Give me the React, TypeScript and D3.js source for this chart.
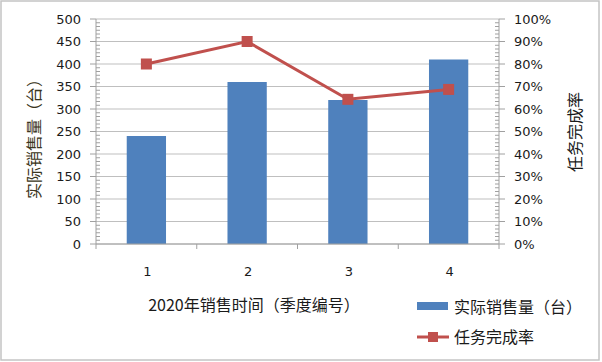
import React from "react";
import * as d3 from "d3";

const categories = ["1", "2", "3", "4"];
const sales = [240, 360, 320, 410];
const completion = [0.8, 0.9, 0.643, 0.687];
const leftTicks = [0, 50, 100, 150, 200, 250, 300, 350, 400, 450, 500];
const rightTicks = [0, 0.1, 0.2, 0.3, 0.4, 0.5, 0.6, 0.7, 0.8, 0.9, 1.0];
const xTitle = "2020年销售时间（季度编号）";
const yLeftTitle = "实际销售量（台）";
const yRightTitle = "任务完成率";
const legendBar = "实际销售量（台）";
const legendLine = "任务完成率";

const W = 602;
const H = 362;
const L = 96;
const R = 499;
const T = 19;
const B = 244;

const BAR = "#4f81bd";
const LINE = "#c0504d";
const GRID = "#bfbfbf";
const AXIS = "#a0a0a0";
const TEXT = "#1a1a1a";
const NUM_FONT = "'DejaVu Sans', Verdana, sans-serif";
const CJK_FONT = "'Noto Sans CJK SC', 'Noto Sans', sans-serif";

export default function App() {
  const x = d3
    .scaleBand<string>()
    .domain(categories)
    .range([L, R])
    .paddingInner(0.61)
    .paddingOuter(0.305);
  const yL = d3.scaleLinear().domain([0, 500]).range([B, T]);
  const yR = d3.scaleLinear().domain([0, 1]).range([B, T]);
  const step = (R - L) / categories.length;
  const cx = (c: string) => (x(c) as number) + x.bandwidth() / 2;

  const minorL: number[] = [];
  for (let i = 0; i < leftTicks.length - 1; i++) {
    for (let k = 1; k < 6; k++) minorL.push(leftTicks[i] + (k * 50) / 6);
  }
  const minorR: number[] = [];
  for (let i = 0; i < rightTicks.length - 1; i++) {
    for (let k = 1; k < 6; k++) minorR.push(rightTicks[i] + (k * 0.1) / 6);
  }

  const line = d3
    .line<number>()
    .x((_, i) => cx(categories[i]))
    .y((d) => yR(d));

  const ms = 11;

  return (
    <svg
      width={W}
      height={H}
      style={{ position: "absolute", left: 0, top: 0, background: "#fff" }}
    >
      <rect x={1} y={1} width={W - 4} height={H - 3} fill="#fff" stroke="#c4c4c4" strokeWidth={1.5} />

      {/* gridlines */}
      {leftTicks.map((t) => (
        <line key={"g" + t} x1={L} x2={R} y1={yL(t)} y2={yL(t)} stroke={GRID} strokeWidth={1} />
      ))}

      {/* bars */}
      {sales.map((v, i) => (
        <rect
          key={"b" + i}
          x={x(categories[i])}
          y={yL(v)}
          width={x.bandwidth()}
          height={B - yL(v)}
          fill={BAR}
        />
      ))}

      {/* axes */}
      <line x1={L} x2={L} y1={T} y2={B} stroke={AXIS} />
      <line x1={R} x2={R} y1={T} y2={B} stroke={AXIS} />
      <line x1={L} x2={R} y1={B} y2={B} stroke={AXIS} />
      {leftTicks.map((t) => (
        <line key={"lt" + t} x1={L - 6} x2={L} y1={yL(t)} y2={yL(t)} stroke={AXIS} />
      ))}
      {minorL.map((t, i) => (
        <line key={"lm" + i} x1={L} x2={L + 4} y1={yL(t)} y2={yL(t)} stroke={AXIS} />
      ))}
      {rightTicks.map((t) => (
        <line key={"rt" + t} x1={R} x2={R + 6} y1={yR(t)} y2={yR(t)} stroke={AXIS} />
      ))}
      {minorR.map((t, i) => (
        <line key={"rm" + i} x1={R - 4} x2={R} y1={yR(t)} y2={yR(t)} stroke={AXIS} />
      ))}
      {d3.range(categories.length + 1).map((i) => (
        <line key={"xt" + i} x1={L + i * step} x2={L + i * step} y1={B} y2={B + 5} stroke={AXIS} />
      ))}

      {/* line series */}
      <path d={line(completion) || ""} fill="none" stroke={LINE} strokeWidth={3} />
      {completion.map((v, i) => (
        <rect
          key={"m" + i}
          x={cx(categories[i]) - ms / 2}
          y={yR(v) - ms / 2}
          width={ms}
          height={ms}
          fill={LINE}
        />
      ))}

      {/* tick labels */}
      {leftTicks.map((t) => (
        <text
          key={"ll" + t}
          x={81}
          y={yL(t)}
          dy="0.36em"
          textAnchor="end"
          fontFamily={NUM_FONT}
          fontSize={13}
          fill={TEXT}
        >
          {t}
        </text>
      ))}
      {rightTicks.map((t) => (
        <text
          key={"rl" + t}
          x={514}
          y={yR(t)}
          dy="0.36em"
          textAnchor="start"
          fontFamily={NUM_FONT}
          fontSize={13}
          fill={TEXT}
        >
          {Math.round(t * 100) + "%"}
        </text>
      ))}
      {categories.map((c) => (
        <text
          key={"cl" + c}
          x={cx(c) + 1}
          y={271}
          dy="0.36em"
          textAnchor="middle"
          fontFamily={NUM_FONT}
          fontSize={13}
          fill={TEXT}
        >
          {c}
        </text>
      ))}

      {/* axis titles */}
      <text
        x={254}
        y={305}
        dy="0.36em"
        textAnchor="middle"
        fontFamily={CJK_FONT}
        fontSize={16}
        fill={TEXT}
      >
        {xTitle}
      </text>
      <text
        transform={`translate(34,135) rotate(-90)`}
        dy="0.36em"
        textAnchor="middle"
        fontFamily={CJK_FONT}
        fontSize={16}
        fill="#3a3520"
      >
        {yLeftTitle}
      </text>
      <text
        transform={`translate(575,132) rotate(-90)`}
        dy="0.36em"
        textAnchor="middle"
        fontFamily={CJK_FONT}
        fontSize={16}
        fill={TEXT}
      >
        {yRightTitle}
      </text>

      {/* legend */}
      <rect x={417} y={302} width={31} height={8} fill={BAR} />
      <text x={454} y={307} dy="0.36em" fontFamily={CJK_FONT} fontSize={16} fill={TEXT}>
        {legendBar}
      </text>
      <line x1={417} x2={449} y1={337} y2={337} stroke={LINE} strokeWidth={3} />
      <rect x={433 - 5} y={337 - 5} width={10} height={10} fill={LINE} />
      <text x={454} y={337} dy="0.36em" fontFamily={CJK_FONT} fontSize={16} fill={TEXT}>
        {legendLine}
      </text>
    </svg>
  );
}
